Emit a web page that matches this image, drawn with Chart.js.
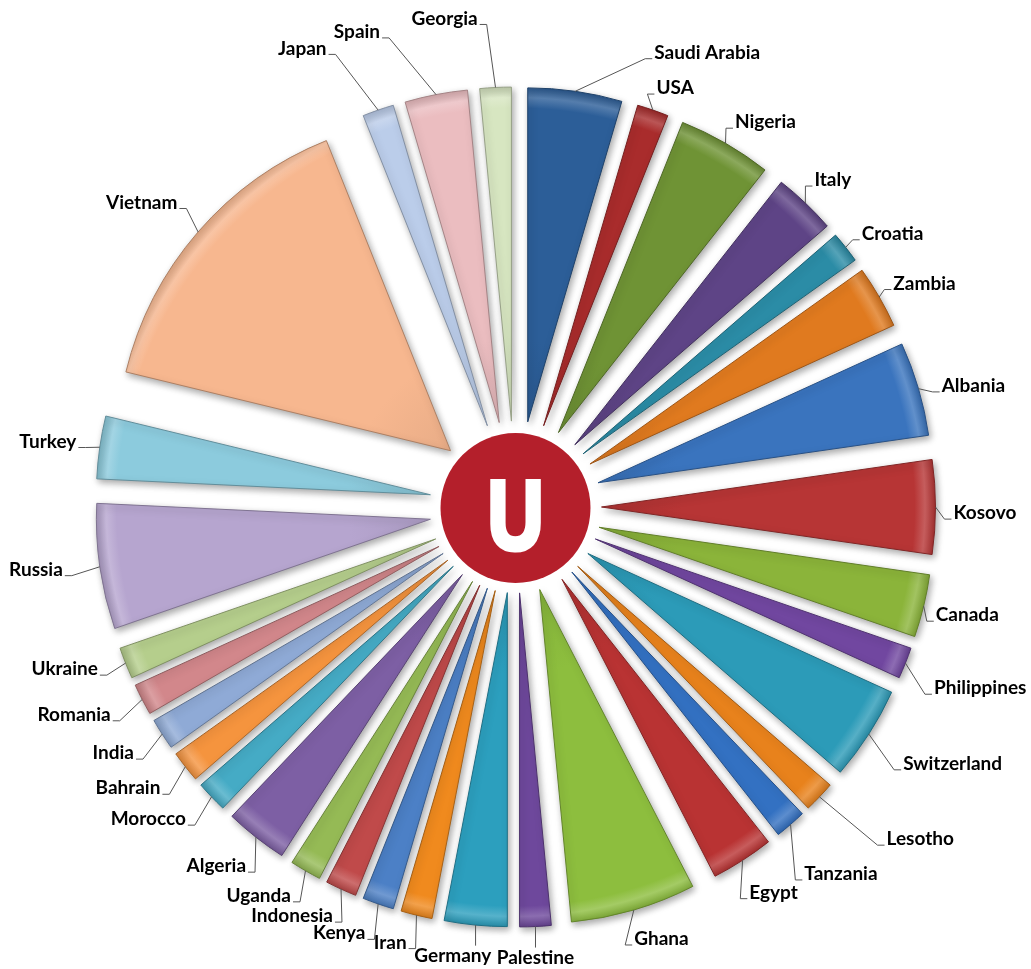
<!DOCTYPE html>
<html><head><meta charset="utf-8">
<script src="https://cdn.jsdelivr.net/npm/chart.js@4/dist/chart.umd.min.js"></script>
<style>html,body{margin:0;padding:0;background:#fff}#wrap{width:1031px;height:969px;position:relative}</style>
</head><body><div id="wrap"><canvas id="c"></canvas></div>
<script>
const countries = ['Saudi Arabia','USA','Nigeria','Italy','Croatia','Zambia','Albania','Kosovo','Canada','Philippines','Switzerland','Lesotho','Tanzania','Egypt','Ghana','Palestine','Germany','Iran','Kenya','Indonesia','Uganda','Algeria','Morocco','Bahrain','India','Romania','Ukraine','Russia','Turkey','Vietnam','Japan','Spain','Georgia'];
const counts = [3,1,3,2,1,2,3,3,2,1,3,1,1,2,4,1,2,1,1,1,1,2,1,1,1,1,1,4,2,10,1,2,1];
const sliceColors = ['#2C5E98','#A92C2C','#6F9335','#5E4486','#2B8CA6','#E07A1F','#3A74BE','#B73535','#8BB43A','#7147A0','#2C9BB8','#E8821C','#3371C2','#B93333','#8DBE3E','#6E489C','#2C9FBE','#F08A1E','#4C80C6','#C04A4A','#95BA55','#7D5FA4','#45ABC5','#F5943E','#8FAAD6','#D2878B','#B5CE8C','#B6A5CF','#8CCBDD','#F7B78F','#BBCDEA','#EBBDC0','#D7E6C1'];

// label placement: [angle shift in degrees, distance from centre in px]
const labelLayout = [[8.8,475],[-0.5,442],[-0.3,443],[-1.2,443],[-0.1,441],[-0.6,439],[0.5,443],[0.8,438],[0.8,434],[1.6,456],[0.8,465],[-1.8,498],[2.7,467],[1.5,451],[1.0,448],[0.2,451],[2.5,453],[0.4,449],[0.3,452],[-0.5,448],[0,449],[-1.3,449],[0.2,454],[-0.2,453],[-0.1,454],[0.1,455],[0.6,448],[0.3,457],[0.3,444],[1.1,455],[-3.3,496],[-5.0,494],[-1.7,490]];

function shade(hex, f){
  const n = parseInt(hex.slice(1),16); let r=n>>16, g=(n>>8)&255, b=n&255;
  if(f>=0){ r+=(255-r)*f; g+=(255-g)*f; b+=(255-b)*f; } else { r*=(1+f); g*=(1+f); b*=(1+f); }
  return 'rgb('+Math.round(r)+','+Math.round(g)+','+Math.round(b)+')';
}
const OFFSET = 86, RADIUS = 334;

function fillFor(ctx){
  const chart = ctx.chart, ca = chart.chartArea;
  const base = sliceColors[ctx.dataIndex];
  if(!ca) return base;
  const cx=(ca.left+ca.right)/2, cy=(ca.top+ca.bottom)/2, R=OFFSET+RADIUS;
  const g = chart.ctx.createRadialGradient(cx,cy,0,cx,cy,R);
  g.addColorStop(0, shade(base,-0.12));
  g.addColorStop(0.4, base);
  g.addColorStop(0.95, base);
  g.addColorStop(0.975, shade(base,0.2));
  g.addColorStop(1, shade(base,-0.12));
  return g;
}

const explode = {
  id:'explode',
  afterDatasetUpdate(chart, args, opts){
    const meta = chart.getDatasetMeta(args.index);
    meta.data.forEach(a=>{
      const m=(a.startAngle+a.endAngle)/2;
      a.x += opts.offset*Math.cos(m); a.y += opts.offset*Math.sin(m);
    });
  },
  beforeDatasetsDraw(chart){
    const c=chart.ctx; c.save();
    c.shadowColor='rgba(0,0,0,0.35)'; c.shadowBlur=7; c.shadowOffsetX=2; c.shadowOffsetY=3;
  },
  afterDatasetsDraw(chart, args, opts){
    const c=chart.ctx; c.restore();
    const ca=chart.chartArea, cx=(ca.left+ca.right)/2, cy=(ca.top+ca.bottom)/2;
    const meta=chart.getDatasetMeta(0);
    c.save();
    c.font='bold 19px Lato';
    c.fillStyle='#000';
    c.strokeStyle='#555'; c.lineWidth=1;
    meta.data.forEach((a,i)=>{
      const m=(a.startAngle+a.endAngle)/2;
      const R=opts.offset+a.outerRadius;
      const Ax=cx+R*Math.cos(m), Ay=cy+R*Math.sin(m);
      const L=labelLayout[i];
      const la=m+L[0]*Math.PI/180;
      const Px=cx+L[1]*Math.cos(la), Py=cy+L[1]*Math.sin(la);
      const cs=Math.cos(la), sn=Math.sin(la);
      let align;
      if(Math.abs(cs)<0.15 && sn>0) align='center'; else align = cs>0?'left':'right';
      c.textAlign=align; c.textBaseline='middle';
      c.fillText(chart.data.labels[i], Px, Py);
      const d=Math.hypot(Px-Ax,Py-Ay);
      if(d<13) return;
      c.beginPath(); c.moveTo(Ax,Ay);
      if(align==='center'){ c.lineTo(Ax, Py-10); }
      else if(align==='left'){ c.lineTo(Px-9,Py+6); c.lineTo(Px-2,Py+6); }
      else { c.lineTo(Px+9,Py+6); c.lineTo(Px+2,Py+6); }
      c.stroke();
    });
    c.restore();
  },
  afterDraw(chart){
    const c=chart.ctx, ca=chart.chartArea, cx=(ca.left+ca.right)/2, cy=(ca.top+ca.bottom)/2;
    c.save();
    c.beginPath(); c.arc(cx, cy+1, 75, 0, Math.PI*2); c.fillStyle='#B41F2B'; c.fill();
    c.translate(cx, cy+42);
    c.scale(0.82,1.05);
    c.font='bold 94px "Liberation Sans"';
    c.textAlign='center'; c.textBaseline='alphabetic';
    c.fillStyle='#fff'; c.strokeStyle='#fff'; c.lineWidth=5; c.lineJoin='miter';
    c.strokeText('U',0,0); c.fillText('U',0,0);
    c.restore();
  }
};

new Chart(document.getElementById('c'), {
  type:'pie',
  data:{ labels: countries, datasets:[{ data: counts, backgroundColor: fillFor,
    borderColor: sliceColors.map(c=>shade(c,-0.3)), borderWidth:1, borderJoinStyle:'round' }]},
  options:{
    responsive:true, maintainAspectRatio:false, animation:false,
    radius: RADIUS,
    layout:{ padding:{ top:45, bottom:0, left:0, right:0 } },
    plugins:{ legend:{display:false}, tooltip:{enabled:false}, explode:{ offset: OFFSET } }
  },
  plugins:[explode]
});
</script></body></html>
